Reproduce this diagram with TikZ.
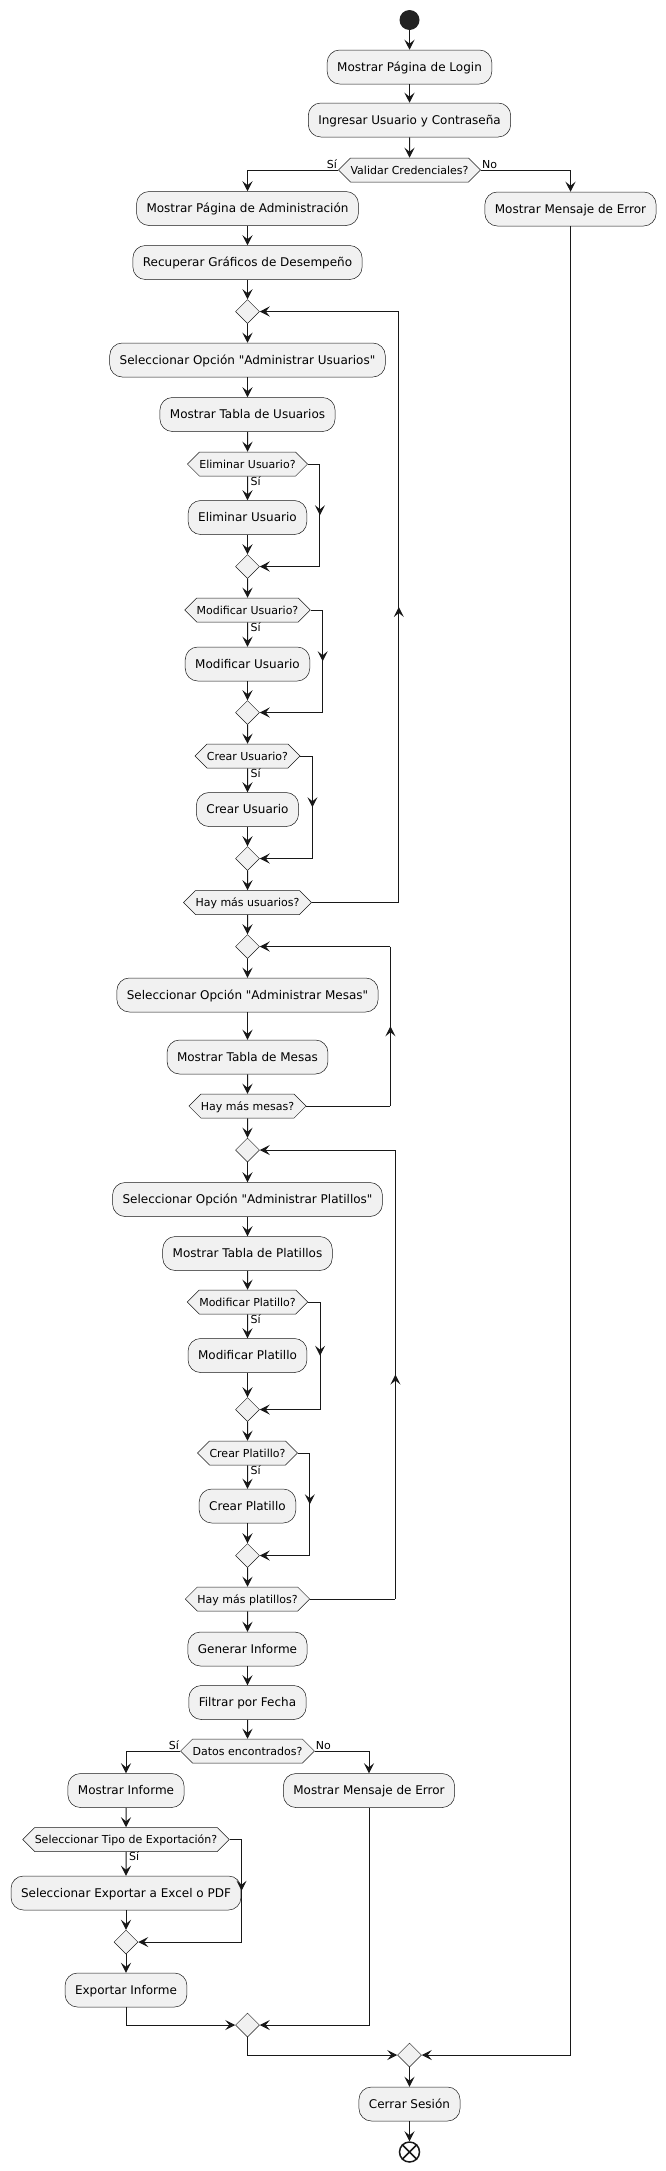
\documentclass[tikz,border=0pt]{standalone}
\usepackage{fontspec}
\setmainfont{DejaVu Sans}[Ligatures=TeXOff]
\usetikzlibrary{calc}
\usetikzlibrary{arrows.meta}
\usetikzlibrary{shapes.geometric}
\usetikzlibrary{shapes.symbols}
\usetikzlibrary{decorations.markings}
\definecolor{actfill}{HTML}{F1F1F1}
\definecolor{actline}{HTML}{181818}
\definecolor{startfill}{HTML}{222222}
\tikzset{
	>={Stealth[length=10pt,width=10pt,inset=4pt]},
	activity/.style={
		rectangle,
		rounded corners=12.5pt,
		fill=actfill,
		draw=actline, line width=0.5pt,
		minimum height=34pt,
		inner xsep=10pt, inner ysep=0pt,
		text height=8.8pt, text depth=0pt,
		font=\fontsize{12pt}{14pt}\selectfont},
	decision/.style={
		signal, signal to=west and east, signal pointer angle=90,
		fill=actfill,
		draw=actline, line width=0.5pt,
		minimum height=24pt,
		inner xsep=0pt, inner ysep=0pt,
		text height=8pt, text depth=0pt,
		font=\fontsize{11pt}{13pt}\selectfont},
	merge/.style={
		diamond,
		fill=actfill,
		draw=actline, line width=0.5pt,
		minimum width=24pt, minimum height=24pt,
		inner sep=0pt},
	startnode/.style={circle, fill=startfill, minimum size=20pt, inner sep=0pt},
	stopnode/.style={circle, fill=white, draw=actline, line width=1.5pt, minimum size=20pt, inner sep=0pt},
	connector/.style={draw=actline, line width=1pt},
	flow/.style={connector, ->},
	midarrow/.style={postaction={decorate},
		decoration={markings, mark=at position 0.5 with {\arrow{>}}}},
	guard/.style={font=\fontsize{11pt}{13pt}\selectfont, inner sep=1pt, text height=8pt, text depth=0pt},
}
\begin{document}
\begin{tikzpicture}[x=1pt,y=-1pt]
	\useasboundingbox (0,0) rectangle (666,2171);
	% login
	\node[startnode] (start) at (409.5,20) {};
	\node[activity] (login) at (409.5,67) {Mostrar Página de Login};
	\node[activity] (ingresar) at (409.5,120) {Ingresar Usuario y Contraseña};
	\node[decision] (validar) at (409.5,170) {Validar Credenciales?};
	\node[activity] (error1) at (570.5,209) {Mostrar Mensaje de Error};
	\node[activity] (adminpage) at (247.5,208.5) {Mostrar Página de Administración};
	\node[activity] (graficos) at (247.5,262.5) {Recuperar Gráficos de Desempeño};
	% usuarios
	\node[merge] (m1) at (247.5,311.5) {};
	\node[activity] (selUsu) at (247.5,360) {Seleccionar Opción "Administrar Usuarios"};
	\node[activity] (tablaUsu) at (247.5,414.5) {Mostrar Tabla de Usuarios};
	\node[decision] (elimQ) at (247.5,464) {Eliminar Usuario?};
	\node[activity] (elim) at (247.5,517.5) {Eliminar Usuario};
	\node[merge] (m2) at (247.5,566.5) {};
	\node[decision] (modQ) at (247.5,610) {Modificar Usuario?};
	\node[activity] (mod) at (247.5,664) {Modificar Usuario};
	\node[merge] (m3) at (247.5,712.5) {};
	\node[decision] (crearQ) at (247.5,756) {Crear Usuario?};
	\node[activity] (crear) at (247.5,809.5) {Crear Usuario};
	\node[merge] (m4) at (247.5,858.5) {};
	\node[decision] (masUsu) at (247.5,902.5) {Hay más usuarios?};
	% mesas
	\node[merge] (m5) at (247.5,946.5) {};
	\node[activity] (selMesas) at (247.5,995) {Seleccionar Opción "Administrar Mesas"};
	\node[activity] (tablaMesas) at (247.5,1057) {Mostrar Tabla de Mesas};
	\node[decision] (masMesas) at (247.5,1106) {Hay más mesas?};
	% platillos
	\node[merge] (m6) at (247.5,1150) {};
	\node[activity] (selPlat) at (247.5,1199.5) {Seleccionar Opción "Administrar Platillos"};
	\node[activity] (tablaPlat) at (247.5,1253.5) {Mostrar Tabla de Platillos};
	\node[decision] (modPQ) at (247.5,1302) {Modificar Platillo?};
	\node[activity] (modP) at (247.5,1355.5) {Modificar Platillo};
	\node[merge] (m7) at (247.5,1409.5) {};
	\node[decision] (crearPQ) at (247.5,1453) {Crear Platillo?};
	\node[activity] (crearP) at (247.5,1506) {Crear Platillo};
	\node[merge] (m8) at (247.5,1555.5) {};
	\node[decision] (masPlat) at (247.5,1599) {Hay más platillos?};
	% informe
	\node[activity] (generar) at (247.5,1649) {Generar Informe};
	\node[activity] (filtrar) at (247.5,1702.5) {Filtrar por Fecha};
	\node[decision] (datosQ) at (247.5,1751) {Datos encontrados?};
	\node[activity] (mostrarInf) at (126,1790.5) {Mostrar Informe};
	\node[activity] (error2) at (369,1790.5) {Mostrar Mensaje de Error};
	\node[decision] (tipoQ) at (126,1839.5) {Seleccionar Tipo de Exportación?};
	\node[activity] (exportSel) at (126,1893) {Seleccionar Exportar a Excel o PDF};
	\node[merge] (m9) at (126,1942) {};
	\node[activity] (exportar) at (126,1990) {Exportar Informe};
	\node[merge] (m10) at (247.5,2025) {};
	\node[merge] (m11) at (409.5,2055) {};
	\node[activity] (cerrar) at (409.5,2104) {Cerrar Sesión};
	\node[stopnode] (stop) at (409.5,2152) {};
	\draw[connector, line width=1.5pt] (stop.45) -- (stop.225) (stop.135) -- (stop.315);

	% straight flows
	\foreach \a/\b in {start/login, login/ingresar, ingresar/validar,
		adminpage/graficos, graficos/m1, m1/selUsu, selUsu/tablaUsu, tablaUsu/elimQ,
		elimQ/elim, elim/m2, m2/modQ, modQ/mod, mod/m3, m3/crearQ, crearQ/crear,
		crear/m4, m4/masUsu, masUsu/m5, m5/selMesas, selMesas/tablaMesas,
		tablaMesas/masMesas, masMesas/m6, m6/selPlat, selPlat/tablaPlat,
		tablaPlat/modPQ, modPQ/modP, modP/m7, m7/crearPQ, crearPQ/crearP,
		crearP/m8, m8/masPlat, masPlat/generar, generar/filtrar, filtrar/datosQ,
		mostrarInf/tipoQ, tipoQ/exportSel, exportSel/m9, m9/exportar,
		m11/cerrar, cerrar/stop}
		\draw[flow] (\a) -- (\b);

	% branches
	\draw[flow] (validar.west) -| (adminpage);
	\draw[flow] (validar.east) -| (error1);
	\draw[flow] (datosQ.west) -| (mostrarInf);
	\draw[flow] (datosQ.east) -| (error2);
	\node[guard, anchor=south east] (siValidar) at (validar.west) {Sí};
	\node[guard, anchor=south west] (noValidar) at (validar.east) {No};
	\node[guard, anchor=south east] (siDatos) at (datosQ.west) {Sí};
	\node[guard, anchor=south west] (noDatos) at (datosQ.east) {No};

	% skipped ifs
	\foreach \q/\m in {elimQ/m2, modQ/m3, crearQ/m4, modPQ/m7, crearPQ/m8, tipoQ/m9} {
		\node[guard, anchor=north west] (si\q) at ($(\q.south)+(2,0)$) {Sí};
		\coordinate (skip) at ($(\q.east)+(12,0)$);
		\draw[connector] (\q.east) -- (skip);
		\draw[connector, midarrow] (skip) -- (skip |- \m);
		\draw[flow] (skip |- \m) -- (\m.east);
	}

	% repeat loops
	\foreach \q/\m/\dx in {masUsu/m1/87, masMesas/m5/84, masPlat/m6/85.5} {
		\coordinate (back) at ($(\q.east)+(\dx,0)$);
		\draw[connector] (\q.east) -- (back);
		\draw[connector, midarrow] (back) -- (back |- \m);
		\draw[flow] (back |- \m) -- (\m.east);
	}

	% joins
	\draw[flow] (exportar) |- (m10);
	\draw[flow] (error2) |- (m10);
	\draw[flow] (m10) |- (m11);
	\draw[flow] (error1) |- (m11);
\end{tikzpicture}
\end{document}
